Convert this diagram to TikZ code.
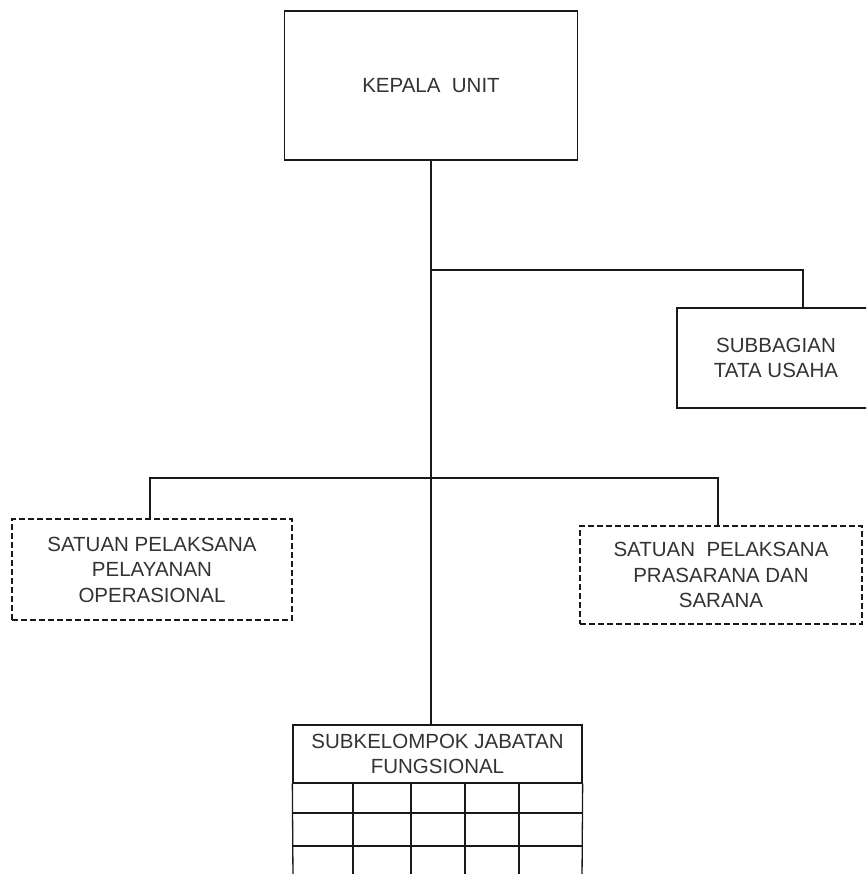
\documentclass[tikz,border=0pt]{standalone}
\usepackage{fontspec}
\setmainfont{Liberation Sans}
\begin{document}
\begin{tikzpicture}[x=1pt,y=-1pt,line width=1.3pt,
  box/.style={draw=black!90, rectangle, inner sep=0pt, align=center,
    font=\fontsize{20.5}{25.5}\selectfont, text=black!80},
  dbox/.style={box, line width=1.5pt, dash pattern=on 6pt off 3pt},
  link/.style={draw=black!90},
  gridline/.style={draw=black!90}]
\useasboundingbox (0,0) rectangle (866,874);
\clip (0,0) rectangle (866,874);
% boxes
\node[box, minimum width=293pt, minimum height=149pt] (kepala) at (431,85.5) {KEPALA\ \ UNIT};
\node[box, minimum width=198pt, minimum height=100pt] (tu) at (776,358) {SUBBAGIAN\\TATA USAHA};
\node[dbox, minimum width=280pt, minimum height=101pt] (p1) at (152,569.5) {SATUAN PELAKSANA\\PELAYANAN\\OPERASIONAL};
\node[dbox, minimum width=282pt, minimum height=98pt] (p2) at (721,575) {SATUAN\ \ PELAKSANA\\PRASARANA DAN\\SARANA};
\node[box, minimum width=289pt, minimum height=58pt] (fung) at (437.5,754) {SUBKELOMPOK JABATAN\\FUNGSIONAL};
% grid below header
\coordinate (gbl) at (293,880);
\coordinate (gbr) at (582,880);
\draw[gridline] (fung.south west) -- (gbl);
\draw[gridline] (fung.south east) -- (gbr);
\foreach \yy in {813,846} \draw[gridline] (293,\yy) -- (582,\yy);
\foreach \xx in {353,411,465,519} \draw[gridline] (\xx,783) -- (\xx,880);
% connectors
\coordinate (j1) at (431,270);
\coordinate (j2) at (431,478);
\draw[link] (kepala.south) -- (kepala.south |- fung.north);
\draw[link] (j1) -| ([xshift=27pt]tu.north);
\draw[link] ([xshift=-2pt]p1.north) |- (j2) -| ([xshift=-3pt]p2.north);
\end{tikzpicture}
\end{document}
